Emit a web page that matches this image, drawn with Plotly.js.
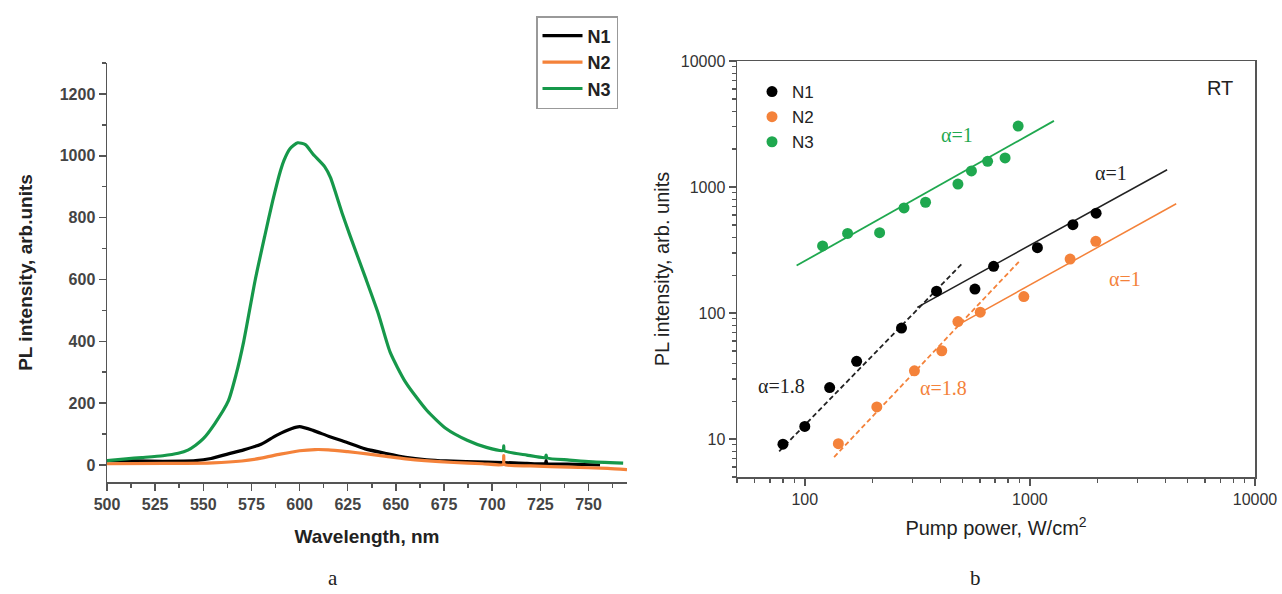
<!DOCTYPE html>
<html>
<head>
<meta charset="utf-8">
<script src="https://cdn.plot.ly/plotly-3.0.1.min.js"></script>
<style>html,body{margin:0;padding:0;background:#fff;}#chart{width:1282px;height:594px;}</style>
</head>
<body>
<div id="chart"></div>
<script>
// ---- Panel a: PL spectra ----
const wlN1 = [500, 515, 529, 546, 554, 563, 571, 580, 588, 596, 600, 607, 615, 624, 634, 645, 655, 666, 676, 697, 706, 718, 727.6, 728, 728.4, 739, 756];
const plN1 = [14, 13, 12, 14, 21, 36, 49, 67, 96, 118, 124, 112, 93, 74, 52, 37, 25, 17, 13, 9, 8, 5, 5, 14, 5, 3, 0];

const wlN2 = [500, 530, 555, 570, 580, 590, 600, 608, 615, 625, 635, 645, 655, 665, 680, 695, 705.7, 706, 706.3, 720, 740, 760, 770];
const plN2 = [4, 5, 7, 13, 22, 35, 46, 50, 49, 43, 36, 28, 20, 14, 8, 4, 2, 30, 2, -3, -7, -11, -15];

const wlN3 = [500, 510, 518, 529, 537, 542, 546, 550, 556, 563, 567, 571, 577, 582, 586, 590, 592, 595, 599, 603, 607, 613, 616, 622, 626, 634, 641, 647, 655, 666, 676, 687, 697, 705.7, 706, 706.3, 718, 727.6, 728, 728.4, 740, 750, 768];
const plN3 = [14, 20, 24, 30, 38, 48, 64, 85, 134, 207, 292, 400, 600, 743, 853, 950, 987, 1023, 1042, 1036, 1005, 965, 930, 816, 745, 609, 487, 365, 268, 177, 118, 80, 57, 47, 62, 46, 32, 24, 32, 23, 16, 11, 6];

// ---- Panel b: PL intensity vs pump power ----
const pumpN1 = [80, 100, 129, 170, 269, 385, 570, 690, 1080, 1553, 1969];
const intN1  = [9.1, 12.6, 25.6, 41.4, 76, 149, 155, 235, 330, 503, 620];
const pumpN2 = [141, 209, 307, 406, 479, 602, 940, 1509, 1963];
const intN2  = [9.2, 18.0, 34.8, 50.2, 85.5, 101.6, 135, 268, 371];
const pumpN3 = [120, 155, 215, 276, 344, 479, 550, 649, 776, 887];
const intN3  = [341, 428, 434, 682, 757, 1055, 1343, 1598, 1701, 3043];

// fit lines (endpoints)
const fitN1LowX = [77, 500],   fitN1LowY = [8.0, 247];
const fitN1HighX = [316, 4070], fitN1HighY = [111, 1371];
const fitN2LowX = [135, 893],  fitN2LowY = [7.2, 255];
const fitN2HighX = [500, 4467], fitN2HighY = [84, 737];
const fitN3X = [92, 1279],     fitN3Y = [238, 3349];

const yTicksB = [10, 100, 1000, 10000];
const yTickTextB = ['10', '100', '1000', '10000'];
const xTicksB = [100, 1000, 10000];
const xTickTextB = ['100', '1000', '10000'];

const cBlack = '#000000', cOrange = '#f4823a', cGreenA = '#16984a', cGreenB = '#1fa84f';

const traces = [
  {x: wlN1, y: plN1, name: 'N1', type: 'scatter', mode: 'lines', line: {color: cBlack, width: 3.2, shape: 'spline', smoothing: 0.6}, xaxis: 'x', yaxis: 'y', legend: 'legend'},
  {x: wlN2, y: plN2, name: 'N2', type: 'scatter', mode: 'lines', line: {color: cOrange, width: 3.2, shape: 'spline', smoothing: 0.6}, xaxis: 'x', yaxis: 'y', legend: 'legend'},
  {x: wlN3, y: plN3, name: 'N3', type: 'scatter', mode: 'lines', line: {color: cGreenA, width: 3.2, shape: 'spline', smoothing: 0.6}, xaxis: 'x', yaxis: 'y', legend: 'legend'},

  {x: fitN1LowX, y: fitN1LowY, mode: 'lines', line: {color: '#222', width: 1.8, dash: '5px,3px'}, xaxis: 'x2', yaxis: 'y2', showlegend: false, hoverinfo: 'skip'},
  {x: fitN1HighX, y: fitN1HighY, mode: 'lines', line: {color: '#222', width: 1.5}, xaxis: 'x2', yaxis: 'y2', showlegend: false, hoverinfo: 'skip'},
  {x: fitN2LowX, y: fitN2LowY, mode: 'lines', line: {color: cOrange, width: 1.8, dash: '5px,3px'}, xaxis: 'x2', yaxis: 'y2', showlegend: false, hoverinfo: 'skip'},
  {x: fitN2HighX, y: fitN2HighY, mode: 'lines', line: {color: cOrange, width: 1.5}, xaxis: 'x2', yaxis: 'y2', showlegend: false, hoverinfo: 'skip'},
  {x: fitN3X, y: fitN3Y, mode: 'lines', line: {color: cGreenB, width: 1.8}, xaxis: 'x2', yaxis: 'y2', showlegend: false, hoverinfo: 'skip'},

  {x: pumpN1, y: intN1, name: 'N1', mode: 'markers', marker: {color: cBlack, size: 11}, xaxis: 'x2', yaxis: 'y2', legend: 'legend2'},
  {x: pumpN2, y: intN2, name: 'N2', mode: 'markers', marker: {color: cOrange, size: 11}, xaxis: 'x2', yaxis: 'y2', legend: 'legend2'},
  {x: pumpN3, y: intN3, name: 'N3', mode: 'markers', marker: {color: cGreenB, size: 11}, xaxis: 'x2', yaxis: 'y2', legend: 'legend2'}
];

const W = 1282, H = 594;
const axisCol = '#555';
const boldTick = {family: 'Arial, Liberation Sans, sans-serif', size: 16, color: '#444', weight: 'bold'};
const normTick = {family: 'Arial, Liberation Sans, sans-serif', size: 16, color: '#333'};

function ann(x, y, text, color) {
  return {xref: 'x2', yref: 'y2', x: Math.log10(x), y: Math.log10(y), text: text, showarrow: false,
          font: {size: 20, color: color, family: 'Liberation Serif, Times New Roman, serif'}};
}

const layout = {
  width: W, height: H,
  margin: {l: 0, r: 0, t: 0, b: 0},
  paper_bgcolor: '#fff', plot_bgcolor: '#fff',
  showlegend: true,
  xaxis: {
    domain: [107 / W, 627 / W], anchor: 'y',
    range: [500, 770], tickvals: [500, 525, 550, 575, 600, 625, 650, 675, 700, 725, 750],
    showgrid: false, zeroline: false, showline: true, linecolor: axisCol, linewidth: 1.5,
    ticks: 'outside', ticklen: 7, tickwidth: 1.5, tickcolor: axisCol,
    minor: {dtick: 12.5, tick0: 500, ticks: 'outside', ticklen: 4, tickwidth: 1.5, tickcolor: axisCol, showgrid: false},
    tickfont: boldTick,
    title: {text: 'Wavelength, nm', font: {family: 'Arial, Liberation Sans, sans-serif', size: 19, color: '#222', weight: 'bold'}, standoff: 18}
  },
  yaxis: {
    domain: [1 - 482 / H, 1 - 63 / H], anchor: 'x',
    range: [-55, 1300], tickvals: [0, 200, 400, 600, 800, 1000, 1200],
    showgrid: false, zeroline: false, showline: true, linecolor: axisCol, linewidth: 1.5,
    ticks: 'outside', ticklen: 7, tickwidth: 1.5, tickcolor: axisCol,
    minor: {dtick: 100, tick0: 0, ticks: 'outside', ticklen: 4, tickwidth: 1.5, tickcolor: axisCol, showgrid: false},
    tickfont: boldTick,
    title: {text: 'PL intensity, arb.units', font: {family: 'Arial, Liberation Sans, sans-serif', size: 19, color: '#222', weight: 'bold'}, standoff: 22}
  },
  xaxis2: {
    domain: [737 / W, 1255 / W], anchor: 'y2', type: 'log',
    range: [Math.log10(50), 4], tickvals: xTicksB, ticktext: xTickTextB,
    showgrid: false, zeroline: false, showline: true, mirror: true, linecolor: axisCol, linewidth: 1.5,
    ticks: 'outside', ticklen: 7, tickwidth: 1.5, tickcolor: axisCol,
    minor: {ticks: 'outside', ticklen: 4, tickwidth: 1.2, tickcolor: axisCol, dtick: 'D1', showgrid: false},
    tickfont: normTick,
    title: {text: 'Pump power, W/cm<sup>2</sup>', font: {family: 'Arial, Liberation Sans, sans-serif', size: 20, color: '#222'}, standoff: 14}
  },
  yaxis2: {
    domain: [1 - 477 / H, 1 - 61 / H], anchor: 'x2', type: 'log',
    range: [Math.log10(5), 4], tickvals: yTicksB, ticktext: yTickTextB,
    showgrid: false, zeroline: false, showline: true, mirror: true, linecolor: axisCol, linewidth: 1.5,
    ticks: 'outside', ticklen: 7, tickwidth: 1.5, tickcolor: axisCol,
    minor: {ticks: 'outside', ticklen: 4, tickwidth: 1.2, tickcolor: axisCol, dtick: 'D1', showgrid: false},
    tickfont: normTick,
    title: {text: 'PL intensity, arb. units', font: {family: 'Arial, Liberation Sans, sans-serif', size: 20, color: '#222'}, standoff: 6}
  },
  legend: {
    x: 536 / W, y: 1 - 16 / H, xanchor: 'left', yanchor: 'top',
    bgcolor: '#fff', bordercolor: '#999', borderwidth: 1.5,
    font: {family: 'Arial, Liberation Sans, sans-serif', size: 18, color: '#222', weight: 'bold'},
    tracegroupgap: 0, itemwidth: 40
  },
  legend2: {
    x: 752 / W, y: 1 - 74 / H, xanchor: 'left', yanchor: 'top',
    bgcolor: 'rgba(0,0,0,0)', borderwidth: 0,
    font: {family: 'Arial, Liberation Sans, sans-serif', size: 17, color: '#222'}
  },
  annotations: [
    ann(475, 2594, 'α=1', cGreenB),
    ann(2296, 1297, 'α=1', '#222'),
    ann(2652, 187, 'α=1', cOrange),
    ann(78.5, 26.4, 'α=1.8', '#222'),
    ann(414, 25.6, 'α=1.8', cOrange),
    {xref: 'x2', yref: 'y2', x: Math.log10(6966), y: Math.log10(6083), text: 'RT', showarrow: false,
     font: {family: 'Arial, Liberation Sans, sans-serif', size: 20, color: '#222'}},
    {xref: 'paper', yref: 'paper', x: 333 / W, y: 1 - 578 / H, xanchor: 'center', yanchor: 'middle', text: 'a', showarrow: false,
     font: {family: 'Liberation Serif, Times New Roman, serif', size: 21, color: '#222'}},
    {xref: 'paper', yref: 'paper', x: 975 / W, y: 1 - 578 / H, xanchor: 'center', yanchor: 'middle', text: 'b', showarrow: false,
     font: {family: 'Liberation Serif, Times New Roman, serif', size: 21, color: '#222'}}
  ]
};

Plotly.newPlot('chart', traces, layout, {displayModeBar: false, staticPlot: true});
</script>
</body>
</html>
